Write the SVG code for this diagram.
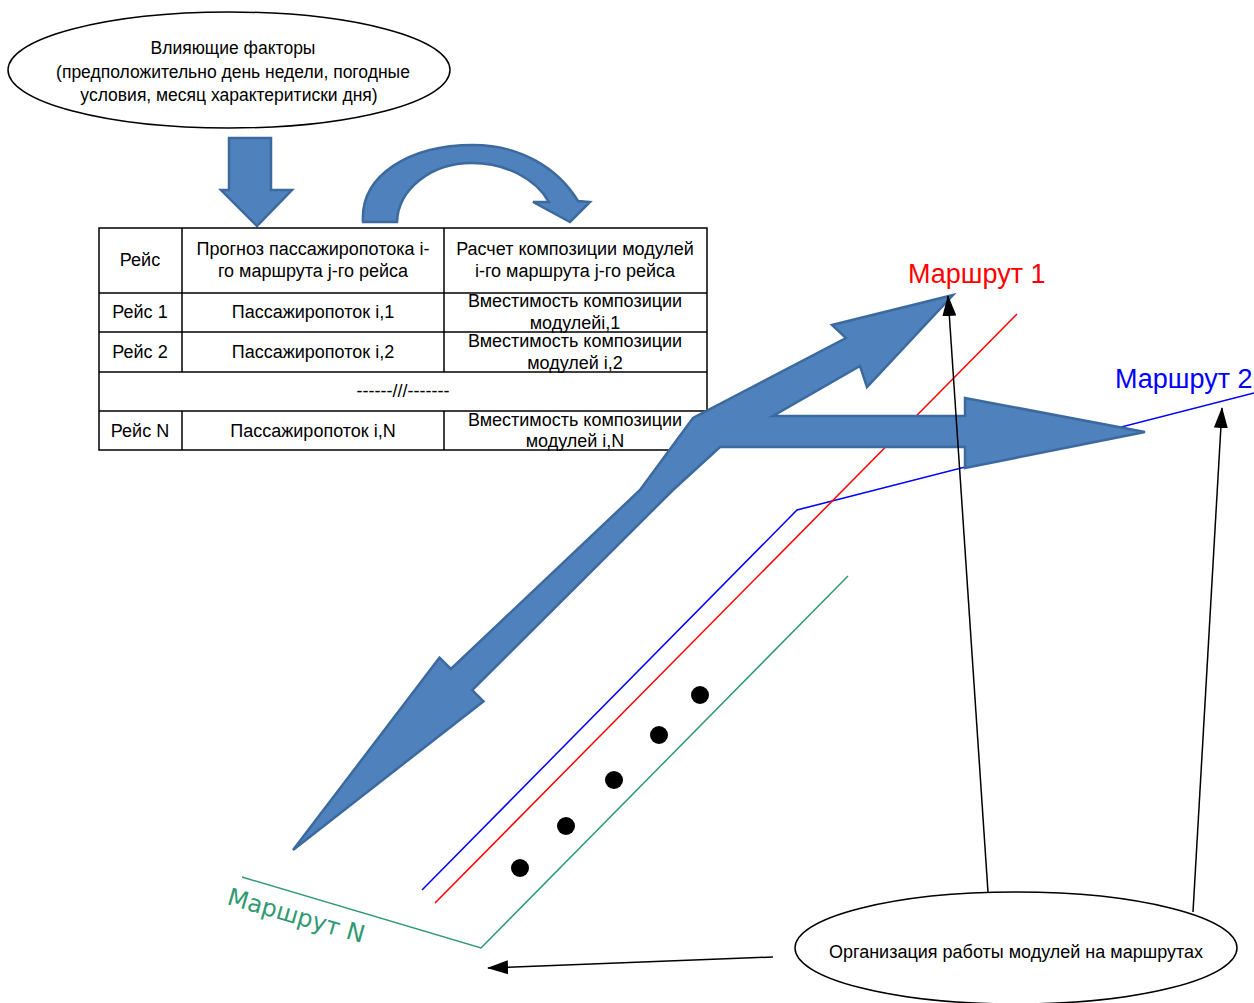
<svg xmlns="http://www.w3.org/2000/svg" width="1254" height="1003" viewBox="0 0 1254 1003">
<style>
.t{font-family:"Liberation Sans",Arial,sans-serif;font-size:18px;fill:#000;text-anchor:middle}
.te{font-size:17.5px}
.el{fill:#fff;stroke:#000;stroke-width:1.5}
.cell{fill:none;stroke:#000;stroke-width:1.5}
.blk{fill:#4f81bd;stroke:#3c6a9e;stroke-width:2.5;stroke-linejoin:miter}
.conn{fill:none;stroke:#000;stroke-width:1.5}
.rt{font-family:"Liberation Sans",Arial,sans-serif;font-size:27px}
</style>
<defs>
<marker id="ah" markerUnits="userSpaceOnUse" markerWidth="22" markerHeight="16" refX="20" refY="7" orient="auto">
<path d="M0,0 L21,7 L0,14 Z" fill="#000"/>
</marker>
</defs>
<rect width="1254" height="1003" fill="#fff"/>

<g id="factors">
<ellipse class="el" cx="229" cy="70" rx="221" ry="58"/>
<text class="t te" x="233" y="54">Влияющие факторы</text>
<text class="t te" x="233" y="78">(предположительно день недели, погодные</text>
<text class="t te" x="229" y="101">условия, месяц характеритиски дня)</text>
</g>

<g id="down-arrow">
<path class="blk" d="M229,138 L271,138 L271,190 L292,190 L257,226 L221,190 L229,190 Z"/>
</g>

<g id="curved-arrow">
<path class="blk" d="M363,222 C360,175 410,145 473,145 C520,145 558,168 578,201 L590,202 L570,222 L533,202 L549,202 C535,178 505,163 472,163 C430,163 398,190 397,222 Z"/>
</g>

<g id="table">
<rect class="cell" x="99" y="228" width="608" height="222"/>
<line class="cell" x1="99" y1="293" x2="707" y2="293"/>
<line class="cell" x1="99" y1="332" x2="707" y2="332"/>
<line class="cell" x1="99" y1="372" x2="707" y2="372"/>
<line class="cell" x1="99" y1="411" x2="707" y2="411"/>
<line class="cell" x1="182" y1="228" x2="182" y2="372"/>
<line class="cell" x1="444" y1="228" x2="444" y2="372"/>
<line class="cell" x1="182" y1="411" x2="182" y2="450"/>
<line class="cell" x1="444" y1="411" x2="444" y2="450"/>
<text class="t" x="140" y="266">Рейс</text>
<text class="t" x="313" y="255">Прогноз пассажиропотока i-</text>
<text class="t" x="313" y="277">го маршрута j-го рейса</text>
<text class="t" x="575" y="255">Расчет композиции модулей</text>
<text class="t" x="575" y="277">i-го маршрута j-го рейса</text>
<text class="t" x="140" y="318">Рейс 1</text>
<text class="t" x="313" y="318">Пассажиропоток i,1</text>
<text class="t" x="575" y="307">Вместимость композиции</text>
<text class="t" x="575" y="329">модулейi,1</text>
<text class="t" x="140" y="358">Рейс 2</text>
<text class="t" x="313" y="358">Пассажиропоток i,2</text>
<text class="t" x="575" y="347">Вместимость композиции</text>
<text class="t" x="575" y="369">модулей i,2</text>
<text class="t" x="403" y="397">------///-------</text>
<text class="t" x="140" y="437">Рейс N</text>
<text class="t" x="313" y="437">Пассажиропоток i,N</text>
<text class="t" x="575" y="426">Вместимость композиции</text>
<text class="t" x="575" y="447">модулей i,N</text>
</g>

<g id="routes">
<polyline fill="none" stroke="#0000ff" stroke-width="1.5" points="1254,393 797,510 422,890"/>
<line stroke="#ff0000" stroke-width="1.5" x1="1017" y1="314" x2="435" y2="903"/>
<polyline fill="none" stroke="#2f9a72" stroke-width="1.5" points="848,576 481,948 242,877"/>
<text class="rt" x="908" y="283" fill="#ff0000">Маршрут 1</text>
<text class="rt" x="1115" y="388" fill="#0000ff">Маршрут 2</text>
<text x="226" y="904" transform="rotate(16 226 904)" font-family="DejaVu Sans,Verdana,sans-serif" font-size="24" fill="#2f9a72">Маршрут N</text>
<circle cx="520" cy="868" r="9"/>
<circle cx="566" cy="826" r="9"/>
<circle cx="614" cy="780" r="9"/>
<circle cx="659" cy="735" r="9"/>
<circle cx="700" cy="695" r="9"/>
</g>

<g id="branch-arrows">
<path class="blk" d="M293,850 L439.5,657.7 L450.9,668.9 L640,490 L693,418 L846,338 L832,325 L953,295 L867,387 L860,366 L773,416 L965,416 L965,398 L1145,432 L965,468 L965,447 L720,447 L673,490 L472.2,690.1 L483.5,701.3 Z"/>
</g>

<g id="org">
<ellipse class="el" cx="1016" cy="948" rx="221" ry="56"/>
<text class="t" x="1016" y="958">Организация работы модулей на маршрутах</text>
</g>

<g id="connectors">
<line class="conn" x1="988" y1="892" x2="948" y2="296" marker-end="url(#ah)"/>
<line class="conn" x1="1193" y1="912" x2="1222" y2="408" marker-end="url(#ah)"/>
<line class="conn" x1="773" y1="957" x2="488" y2="968" marker-end="url(#ah)"/>
</g>
</svg>
